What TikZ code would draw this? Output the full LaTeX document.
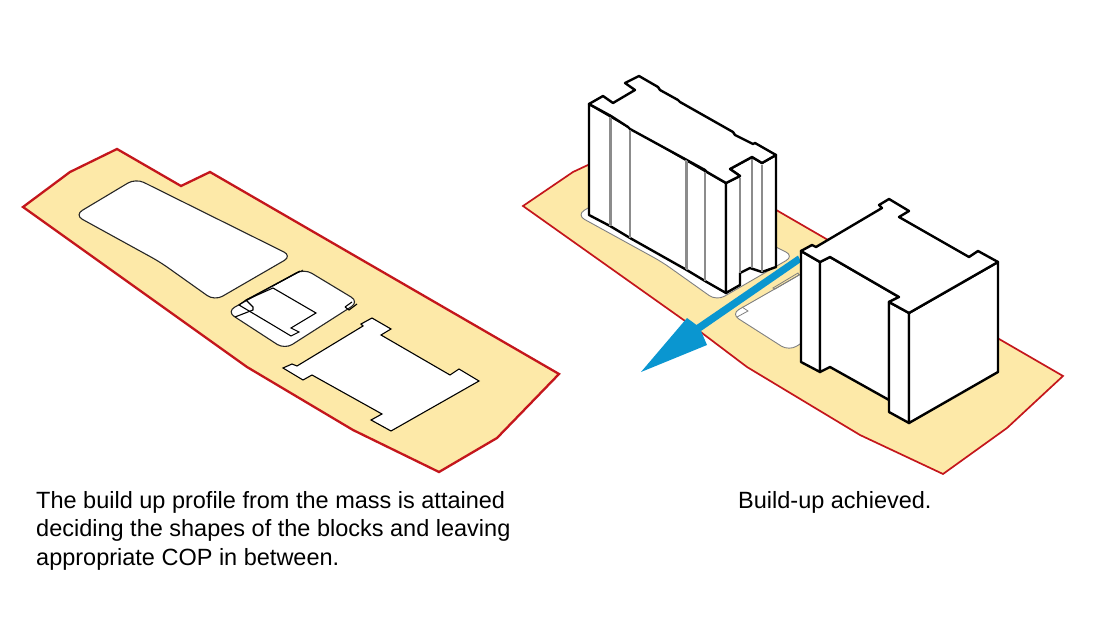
\documentclass[tikz,border=0pt]{standalone}
\usepackage{fontspec}
\setmainfont{Liberation Sans}
\definecolor{plotcream}{HTML}{FDE9A8}
\definecolor{plotred}{HTML}{C4161C}
\definecolor{arrowblue}{HTML}{0A96D0}
\tikzset{
  plotline/.style={draw=plotred,fill=plotcream,line join=miter},
  voidline/.style={draw=black!85,fill=white,line width=1.1pt,rounded corners=9pt},
  voidgray/.style={draw=black!50,fill=white,line width=0.9pt,rounded corners=9pt},
  plan/.style={draw=black,line width=1.1pt,line join=miter},
  planfill/.style={plan,fill=white},
  block/.style={draw=black,fill=white,line width=2.4pt,line join=round},
  rib/.style={draw=black!45,line width=1.4pt},
  caption/.style={font=\fontsize{23.5}{28.4}\selectfont,align=left,inner sep=0pt,anchor=north west}
}
\begin{document}
\begin{tikzpicture}[x=1pt,y=-1pt]
\useasboundingbox[fill=white] (0,0) rectangle (1120,631);

% left plot
\draw[plotline,line width=2.3pt] (23,207)--(70,172)--(117,149)--(181,186)--(210,172)--(559,374)--(497,438)--(439,472)--(353,430)--(247,367)--cycle;
\draw[voidline] (135.7,178.4)--(292,256)--(214.6,300.8)--(160,262)--(74.5,215)--cycle;
\draw[voidline] (304,268.6)--(359,301.8)--(284.7,349.3)--(226.7,311.6)--cycle;

% footprints in the middle court
\draw[plan] (246,300)--(273,288)--(316,313)--(291,328)--(299,332)--(291,336)--(271,324)--(239,305)--(246,300);
\draw[plan] (246,300)--(300,271);
\draw[draw=black,line width=0.7pt] (273,286)--(303,270);
\draw[plan] (246,300)--(253,307)--(253,310)--(235,317);
\draw[plan] (345,307)--(352,302);
\draw[plan] (345,307)--(349,310)--(357,304);

% lower footprint
\draw[planfill] (283,368)--(292,364)--(297,366)--(363,326)--(361,324)--(372,318)--(391,329)--(381,335)--(450,375)--(459,369)--(479,381)--(391,431)--(371,420)--(382,414)--(312,375)--(303,380)--cycle;

% right plot
\draw[plotline,line width=1.7pt] (523,206)--(573,172)--(620,150)--(685,188)--(714,174)--(1063,376)--(1007,428)--(943,474)--(860,435)--(747,367)--(702,333)--cycle;
\draw[voidgray] (637.7,178)--(794,256)--(716.6,300.8)--(662,262)--(576.5,215)--cycle;
\draw[voidgray] (808,270)--(863,304)--(789,351)--(731,314)--cycle;
\draw[draw=black!50,line width=0.8pt] (737,317)--(748,311)--(742,307);
\draw[draw=black!50,line width=0.8pt] (773,288)--(798,273)--(799,275)--(775,289)--cycle;

% tall block
\draw[block] (589,104)--(726,183)--(726,293)--(705,281)--(685,269)--(630,238)--(610,226)--(589,215)--cycle;
\draw[block] (726,183)--(740,176)--(730,169)--(752,157)--(762,163)--(776,155)--(776,267)--(762,272)--(750,268)--(740,273)--(740,285)--(726,293)--cycle;
\draw[block] (589,104)--(603,96)--(613,103)--(635,90)--(625,83)--(639,76)--(658,87)--(660,90)--(678,100)--(680,102)--(733,132)--(735,135)--(753,144)--(755,143)--(776,155)--(762,163)--(752,157)--(730,169)--(740,176)--(726,183)--(707,172)--(705,170)--(685,159)--(630,129)--(628,127)--(611,116)--cycle;
\foreach \ribx/\ribt/\ribb in {610/117/226,611/118/226,630/130/238,686/160/269,687/161/270,705/172/281,740/178/273,752/159/268,762/165/272}
  \draw[rib] (\ribx,\ribt)--(\ribx,\ribb);

% arrow
\fill[arrowblue] (798,255.5)--(801,262)--(701,331)--(707,345)--(641,372)--(687,318)--(696.5,325)--cycle;

% low block
\draw[block] (801,251)--(820,262)--(820,372)--(801,362)--cycle;
\draw[block] (820,262)--(830,257)--(899,297)--(889,302)--(889,400)--(830,367)--(820,372)--cycle;
\draw[block] (889,302)--(909,313)--(909,423)--(889,412)--cycle;
\draw[block] (909,313)--(998,262)--(998,372)--(909,423)--cycle;
\draw[block] (801,251)--(812,245)--(816,247)--(882,208)--(879,205)--(889,199)--(909,211)--(899,217)--(969,257)--(978,251)--(998,262)--(909,313)--(889,302)--(899,297)--(830,257)--(820,262)--cycle;

% captions
\node[caption] (cap1) at (36,491) {The build up profile from the mass is attained\\deciding the shapes of the blocks and leaving\\appropriate COP in between.};
\node[caption] (cap2) at (738,491) {Build-up achieved.};
\end{tikzpicture}
\end{document}
